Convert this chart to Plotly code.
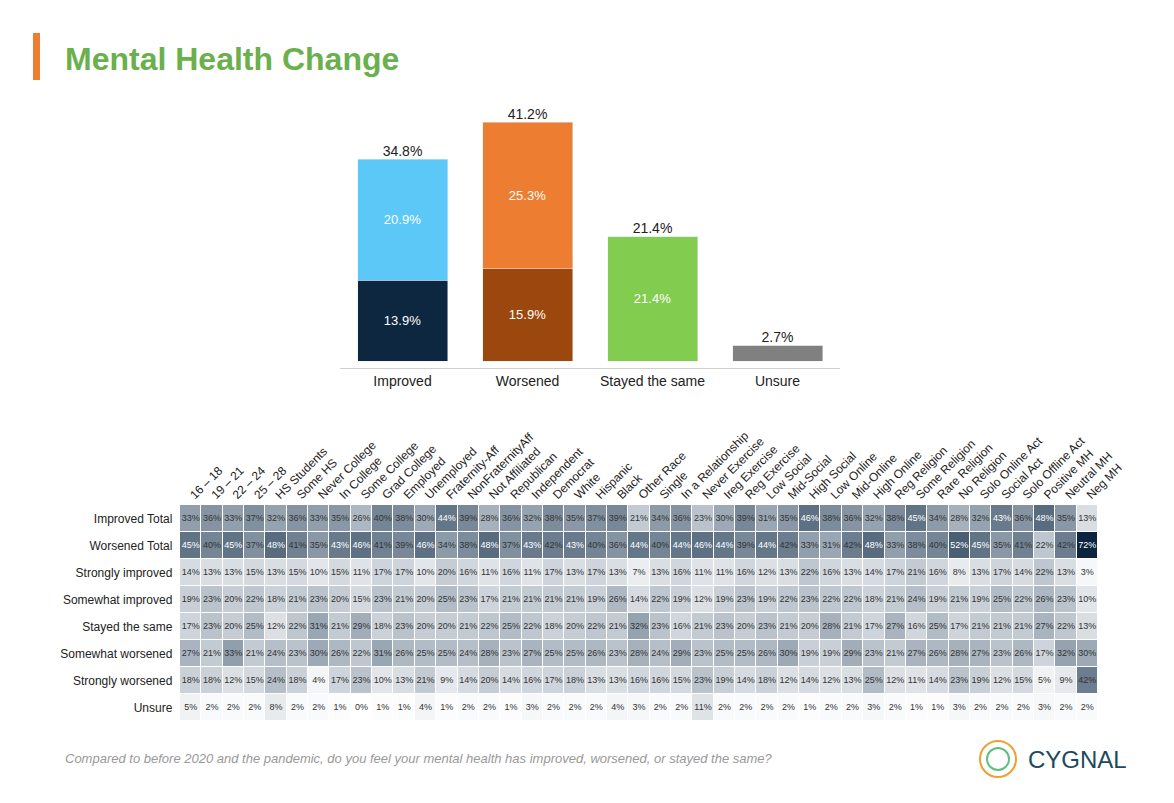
import plotly.graph_objects as go

# bar chart data
bar_cats = ["Improved", "Worsened", "Stayed the same", "Unsure"]
bar_bottom = [13.9, 15.9, 21.4, 2.7]
bar_top = [20.9, 25.3, 0, 0]
bar_totals = [34.8, 41.2, 21.4, 2.7]

# heatmap data
groups = ["16 – 18", "19 – 21", "22 – 24", "25 – 28", "HS Students", "Some HS", "Never College",
          "In College", "Some College", "Grad College", "Employed", "Unemployed", "Fraternity-Aff",
          "NonFraternityAff", "Not Affiliated", "Republican", "Independent", "Democrat", "White",
          "Hispanic", "Black", "Other Race", "Single", "In a Relationship", "Never Exercise",
          "Ireg Exercise", "Reg Exercise", "Low Social", "Mid-Social", "High Social", "Low Online",
          "Mid-Online", "High Online", "Reg Religion", "Some Religion", "Rare Religion", "No Religion",
          "Solo Online Act", "Social Act", "Solo Offline Act", "Positive MH", "Neutral MH", "Neg MH"]
rows = ["Improved Total", "Worsened Total", "Strongly improved", "Somewhat improved",
        "Stayed the same", "Somewhat worsened", "Strongly worsened", "Unsure"]
improved_total = [33, 36, 33, 37, 32, 36, 33, 35, 26, 40, 38, 30, 44, 39, 28, 36, 32, 38, 35, 37, 39, 21,
                  34, 36, 23, 30, 39, 31, 35, 46, 38, 36, 32, 38, 45, 34, 28, 32, 43, 36, 48, 35, 13]
worsened_total = [45, 40, 45, 37, 48, 41, 35, 43, 46, 41, 39, 46, 34, 38, 48, 37, 43, 42, 43, 40, 36, 44,
                  40, 44, 46, 44, 39, 44, 42, 33, 31, 42, 48, 33, 38, 40, 52, 45, 35, 41, 22, 42, 72]
strongly_improved = [14, 13, 13, 15, 13, 15, 10, 15, 11, 17, 17, 10, 20, 16, 11, 16, 11, 17, 13, 17, 13, 7,
                     13, 16, 11, 11, 16, 12, 13, 22, 16, 13, 14, 17, 21, 16, 8, 13, 17, 14, 22, 13, 3]
somewhat_improved = [19, 23, 20, 22, 18, 21, 23, 20, 15, 23, 21, 20, 25, 23, 17, 21, 21, 21, 21, 19, 26, 14,
                     22, 19, 12, 19, 23, 19, 22, 23, 22, 22, 18, 21, 24, 19, 21, 19, 25, 22, 26, 23, 10]
stayed_same = [17, 23, 20, 25, 12, 22, 31, 21, 29, 18, 23, 20, 20, 21, 22, 25, 22, 18, 20, 22, 21, 32,
               23, 16, 21, 23, 20, 23, 21, 20, 28, 21, 17, 27, 16, 25, 17, 21, 21, 21, 27, 22, 13]
somewhat_worsened = [27, 21, 33, 21, 24, 23, 30, 26, 22, 31, 26, 25, 25, 24, 28, 23, 27, 25, 25, 26, 23, 28,
                     24, 29, 23, 25, 25, 26, 30, 19, 19, 29, 23, 21, 27, 26, 28, 27, 23, 26, 17, 32, 30]
strongly_worsened = [18, 18, 12, 15, 24, 18, 4, 17, 23, 10, 13, 21, 9, 14, 20, 14, 16, 17, 18, 13, 13, 16,
                     16, 15, 23, 19, 14, 18, 12, 14, 12, 13, 25, 12, 11, 14, 23, 19, 12, 15, 5, 9, 42]
unsure = [5, 2, 2, 2, 8, 2, 2, 1, 0, 1, 1, 4, 1, 2, 2, 1, 3, 2, 2, 2, 4, 3,
          2, 2, 11, 2, 2, 2, 2, 1, 2, 2, 3, 2, 1, 1, 3, 2, 2, 2, 3, 2, 2]
z = [improved_total, worsened_total, strongly_improved, somewhat_improved,
     stayed_same, somewhat_worsened, strongly_worsened, unsure]

# page has an 8px body margin, so lay out in a 1158x787 canvas offset by 8px
W, H = 1158, 787
fx = lambda px: (px - 8) / W
fy = lambda py: 1 - (py - 8) / H

fig = go.Figure()

fig.add_trace(go.Bar(
    x=bar_cats, y=bar_bottom, marker_color=["#0d2740", "#9c470d", "#82cc50", "#808080"],
    text=[f"{v:.1f}%" if i < 3 else "" for i, v in enumerate(bar_bottom)], textposition="inside",
    insidetextanchor="middle", textfont=dict(color="white", size=13), width=0.72,
    xaxis="x", yaxis="y", hoverinfo="skip"))
fig.add_trace(go.Bar(
    x=bar_cats, y=bar_top, marker_color=["#5bc8f7", "#ed7d31", "#82cc50", "#808080"],
    text=[f"{v:.1f}%" if v else "" for v in bar_top], textposition="inside",
    insidetextanchor="middle", textfont=dict(color="white", size=13), width=0.72,
    xaxis="x", yaxis="y", hoverinfo="skip"))
fig.add_trace(go.Scatter(
    x=bar_cats, y=bar_totals, mode="text", text=[f"{v:.1f}%" for v in bar_totals],
    textposition="top center", textfont=dict(color="#222", size=14), xaxis="x", yaxis="y"))

fig.add_trace(go.Heatmap(
    z=z, x=groups, y=rows, zmin=0, zmax=72, xgap=1, ygap=1, showscale=False,
    colorscale=[[0, "#ffffff"], [0.3, "#c0c8d1"], [0.6, "#67798b"], [1, "#0b2540"]],
    xaxis="x2", yaxis="y2", hoverinfo="skip"))
tx, ty, tt, tc = [], [], [], []
for r, vals in zip(rows, z):
    for g, v in zip(groups, vals):
        tx.append(g); ty.append(r); tt.append(f"{v}%")
        tc.append("white" if v >= 43 else "#333")
fig.add_trace(go.Scatter(
    x=tx, y=ty, mode="text", text=tt, textfont=dict(color=tc, size=9),
    xaxis="x2", yaxis="y2", hoverinfo="skip"))

fig.update_layout(
    width=W, height=H, barmode="stack", showlegend=False,
    paper_bgcolor="white", plot_bgcolor="white",
    margin=dict(l=0, r=0, t=0, b=0),
    font=dict(family="Liberation Sans, Arial", color="#222"),
    xaxis=dict(domain=[fx(340), fx(840)], showline=True, linecolor="#d0d0d0",
               tickfont=dict(size=14), ticks="", anchor="y", automargin=False),
    yaxis=dict(domain=[fy(368), fy(100)], range=[-1.2, 45], visible=False, anchor="x", automargin=False),
    xaxis2=dict(domain=[fx(180), fx(1098)], range=[-0.5, len(groups) - 0.5], side="top",
                tickangle=-45, tickfont=dict(size=12), anchor="y2", showgrid=False, automargin=False),
    yaxis2=dict(domain=[fy(721), fy(505)], range=[len(rows) - 0.5, -0.5], tickfont=dict(size=12),
                anchor="x2", showgrid=False, ticksuffix="  ", automargin=False),
    shapes=[
        dict(type="rect", xref="paper", yref="paper", x0=fx(33), x1=fx(40), y0=fy(80), y1=fy(33),
             fillcolor="#ed7d31", line_width=0),
        dict(type="circle", xref="paper", yref="paper", x0=fx(980), x1=fx(1016), y0=fy(777), y1=fy(741),
             line=dict(color="#f0a030", width=2)),
        dict(type="circle", xref="paper", yref="paper", x0=fx(987), x1=fx(1009), y0=fy(770), y1=fy(748),
             line=dict(color="#5fbf7f", width=2)),
    ],
    annotations=[
        dict(text="<b>Mental Health Change</b>", x=fx(63), y=fy(59), xref="paper", yref="paper",
             xanchor="left", yanchor="middle", showarrow=False,
             font=dict(size=32, color="#6ab04c")),
        dict(text="<i>Compared to before 2020 and the pandemic, do you feel your mental health has improved, worsened, or stayed the same?</i>",
             x=fx(63), y=fy(758), xref="paper", yref="paper", xanchor="left", yanchor="middle",
             showarrow=False, font=dict(size=13, color="#999")),
        dict(text="CYGNAL", x=fx(1026), y=fy(759), xref="paper", yref="paper", xanchor="left",
             yanchor="middle", showarrow=False, font=dict(size=24, color="#1d4b5c")),
    ],
)

fig.write_html("out.html")
